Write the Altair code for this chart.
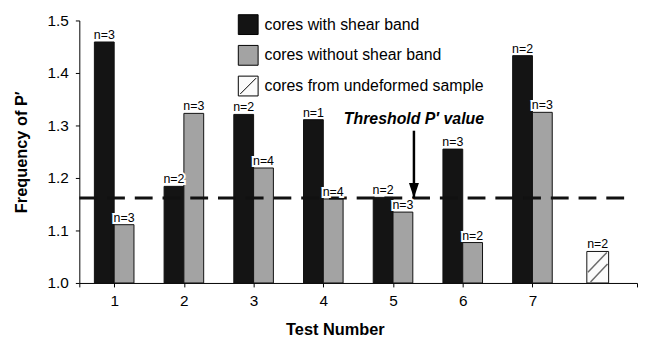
import altair as alt
import pandas as pd

# ---- data ----
tests = [1, 2, 3, 4, 5, 6, 7]
with_band = [1.459, 1.184, 1.321, 1.311, 1.163, 1.255, 1.433]
with_n = [3, 2, 2, 1, 2, 3, 2]
without_band = [1.111, 1.323, 1.219, 1.160, 1.135, 1.077, 1.325]
without_n = [3, 3, 4, 4, 3, 2, 3]
undeformed_test = [8]
undeformed_value = [1.060]
undeformed_n = [2]
threshold = [1.162]
series_names = ["cores with shear band", "cores without shear band", "cores from undeformed sample"]
series_colors = ["#141414", "#a3a3a3", "#fbfbfb"]
x_tick_values = [0.5, 1, 2, 3, 4, 5, 6, 7, 8.5]
y_tick_values = [1.0, 1.05, 1.1, 1.15, 1.2, 1.25, 1.3, 1.35, 1.4, 1.45, 1.5]
annot_text = ["Threshold P\u2032 value"]
annot_x = [5.3]
annot_y = [1.302]
arrow_top = [1.29]

rows = []
for t, v, n in zip(tests, with_band, with_n):
    rows.append({"test": t, "series": series_names[0], "value": v, "n": n})
for t, v, n in zip(tests, without_band, without_n):
    rows.append({"test": t, "series": series_names[1], "value": v, "n": n})
for t, v, n in zip(undeformed_test, undeformed_value, undeformed_n):
    rows.append({"test": t, "series": series_names[2], "value": v, "n": n})
df = pd.DataFrame(rows)
df["label"] = "n=" + df["n"].astype(str)

FONT = "Liberation Sans"
xscale = alt.Scale(domain=[0.5, 8.5], nice=False, zero=False)
yscale = alt.Scale(domain=[1.0, 1.5], nice=False, zero=False)
fill_scale = alt.Scale(domain=series_names, range=series_colors)
shape_scale = alt.Scale(domain=series_names,
                        range=["square", "square", "M-1,-1H1V1H-1Z M-0.8,0.8L0.8,-0.8"])

base = alt.Chart(df).transform_calculate(
    x0=f"datum.test + (datum.series == '{series_names[0]}' ? -0.284 : datum.series == '{series_names[1]}' ? 0 : -0.22)",
).transform_calculate(
    x1=f"datum.x0 + (datum.series == '{series_names[2]}' ? 0.313 : 0.284)",
).transform_calculate(
    xc="(datum.x0 + datum.x1) / 2",
    w="datum.x1 - datum.x0",
    h="datum.value - 1",
)

x_axis = alt.Axis(values=x_tick_values, labelExpr="datum.value >= 1 && datum.value <= 7 ? datum.value : ''",
                  title="Test Number", titleFontSize=16.5, titleFontWeight="bold", titleFont=FONT,
                  titleX=258, titleY=52, titleBaseline="alphabetic", titleAlign="center",
                  labelFontSize=15.5, labelFont=FONT, labelPadding=7, tickSize=4, grid=False,
                  labelFlush=False, labelOverlap=False, domainColor="black", tickColor="black",
                  labelColor="black", titleColor="black")
y_axis = alt.Axis(values=y_tick_values,
                  labelExpr="abs(datum.value*10 - round(datum.value*10)) < 0.01 ? format(datum.value, '.1f') : ''",
                  title="Frequency of P\u2032", titleFontSize=16.5, titleFontWeight="bold", titleFont=FONT,
                  titleX=-58.5, titleY=132.5, titleAngle=270, titleAlign="center", titleBaseline="middle",
                  labelFontSize=15.5, labelFont=FONT, labelPadding=7, tickSize=4, grid=False,
                  labelFlush=False, labelOverlap=False, domainColor="black", tickColor="black",
                  labelColor="black", titleColor="black")

legend = alt.Legend(title=None, orient="none", legendX=160, legendY=-6.3)

bars = base.mark_bar(stroke="#111111", strokeWidth=1).encode(
    x=alt.X("x0:Q", scale=xscale, axis=x_axis),
    x2="x1:Q",
    y=alt.Y("value:Q", scale=yscale, axis=y_axis),
    y2=alt.datum(1.0),
    fill=alt.Fill("series:N", scale=fill_scale, legend=None),
)

und = base.transform_filter(f"datum.series == '{series_names[2]}'")
hatch1 = und.transform_calculate(
    hx1="datum.x0 + 0.05*datum.w", hx2="datum.x0 + 0.92*datum.w",
    hy1="1 + 0.34*datum.h", hy2="1 + 0.97*datum.h",
).mark_rule(color="#6a6a6a", strokeWidth=1.5).encode(
    x="hx1:Q", x2="hx2:Q", y="hy1:Q", y2="hy2:Q")
hatch2 = und.transform_calculate(
    hx1="datum.x0 + 0.17*datum.w", hx2="datum.x0 + 0.95*datum.w",
    hy1="1 + 0.03*datum.h", hy2="1 + 0.60*datum.h",
).mark_rule(color="#6a6a6a", strokeWidth=1.5).encode(
    x="hx1:Q", x2="hx2:Q", y="hy1:Q", y2="hy2:Q")

thr_df = pd.DataFrame({"y": threshold, "xa": [0.5], "xb": [8.36]})
thr = alt.Chart(thr_df).mark_rule(color="#111111", strokeWidth=3, strokeDash=[18, 10]).encode(
    x="xa:Q", x2="xb:Q", y="y:Q")

ann_df = pd.DataFrame({"x": annot_x, "y": annot_y, "text": annot_text,
                       "top": arrow_top, "thr": threshold})
arrow_line = alt.Chart(ann_df).mark_rule(color="black", strokeWidth=2.5).encode(
    x="x:Q", y="top:Q", y2="thr:Q")
arrow_head = alt.Chart(ann_df).mark_point(shape="M-0.67,-1L0.67,-1L0,1Z", size=225, filled=True,
                                          color="black", opacity=1, yOffset=-7.5).encode(
    x="x:Q", y="thr:Q")
ann_text = alt.Chart(ann_df).mark_text(font=FONT, fontSize=16, fontStyle="italic", fontWeight="bold",
                                       align="center", baseline="alphabetic", color="black").encode(
    x="x:Q", y="y:Q", text="text:N")

halo = base.mark_text(font=FONT, fontSize=12.5, baseline="alphabetic", dy=-3, stroke="white",
                      strokeWidth=4, color="white").encode(x="xc:Q", y="value:Q", text="label:N")
labels = base.mark_text(font=FONT, fontSize=12.5, baseline="alphabetic", dy=-3, color="black").encode(
    x="xc:Q", y="value:Q", text="label:N")

legend_pts = base.mark_point(filled=True, stroke="black", strokeWidth=1, opacity=0).encode(
    x="xc:Q", y="value:Q",
    fill=alt.Fill("series:N", scale=fill_scale, legend=legend),
    shape=alt.Shape("series:N", scale=shape_scale, legend=legend),
)

chart = alt.layer(bars, hatch1, hatch2, thr, arrow_line, arrow_head, halo, labels, ann_text,
                  legend_pts).resolve_scale(fill="independent", shape="independent").properties(
    width=563, height=265,
    autosize=alt.AutoSizeParams(type="none"),
    padding={"left": 72, "top": 11, "right": 1, "bottom": 56},
).configure_view(stroke=None).configure_legend(
    symbolSize=400, symbolOpacity=1, symbolStrokeWidth=1,
    labelFont=FONT, labelFontSize=16, labelColor="black", labelOffset=6, rowPadding=6,
    padding=0, symbolOffset=0, labelLimit=0,
)

chart.save("out.html", embed_options={"renderer": "svg", "actions": False})
